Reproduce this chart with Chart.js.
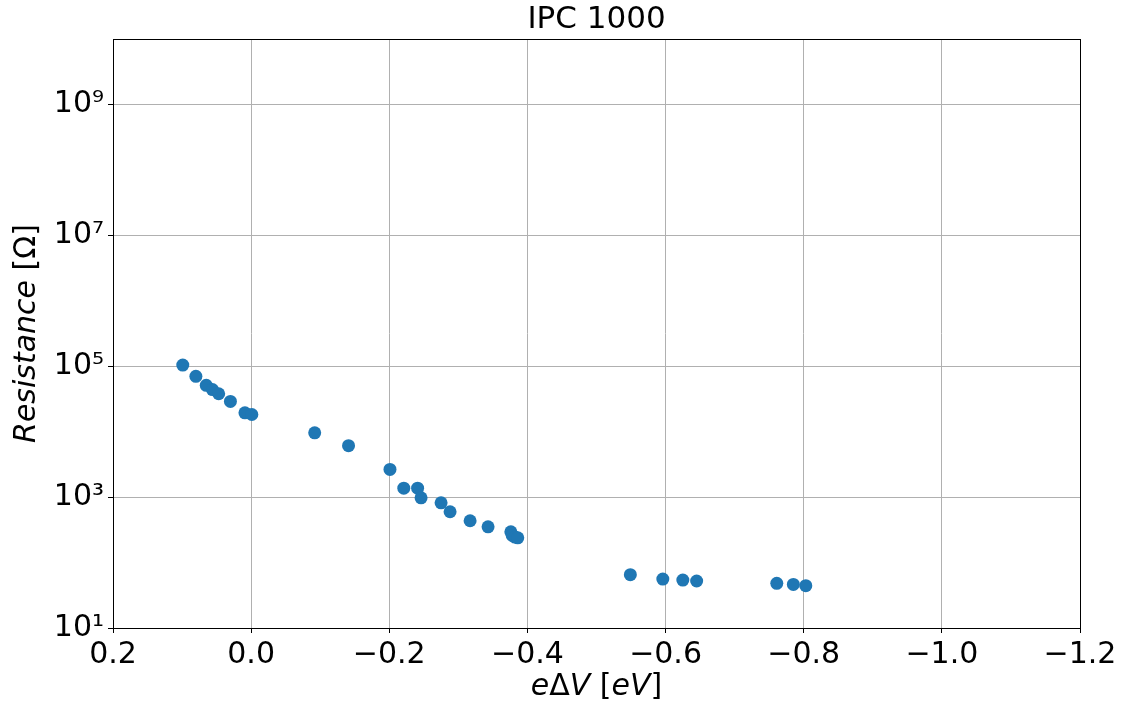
<!DOCTYPE html>
<html>
<head>
<meta charset="utf-8">
<script src="https://cdn.jsdelivr.net/npm/chart.js@4"></script>
<style>
  html, body { margin: 0; padding: 0; background: #fff; }
  #wrap { width: 1123px; height: 706px; }
</style>
</head>
<body>
<div id="wrap"><canvas id="chart"></canvas></div>
<script>
// energy shift e*dV [eV]
const deltaV = [0.099, 0.080, 0.065, 0.056, 0.047, 0.030, 0.009, -0.001,
  -0.092, -0.141, -0.201, -0.221, -0.241, -0.246, -0.275, -0.288, -0.317,
  -0.343, -0.376, -0.378, -0.382, -0.386, -0.549, -0.596, -0.625, -0.645,
  -0.761, -0.785, -0.803];
// resistance [Ohm]
const resistance = [1.04e5, 7.0e4, 5.1e4, 4.4e4, 3.8e4, 2.9e4, 1.94e4, 1.83e4,
  9.6e3, 6.1e3, 2.65e3, 1.37e3, 1.37e3, 975, 818, 597, 435,
  352, 295, 260, 245, 239, 65.2, 56, 54, 52.3,
  48.1, 46.4, 44.3];
const yTicks = [1e1, 1e3, 1e5, 1e7, 1e9];
const yTickLabels = ['10\u00b9', '10\u00b3', '10\u2075', '10\u2077', '10\u2079'];
const title = 'IPC 1000';

const FONT = 'DejaVu Sans';

// draws the top/right spines, the title and the mixed-style axis titles
const frame = {
  id: 'frame',
  afterDraw(chart) {
    const ctx = chart.ctx;
    const a = chart.chartArea;
    const cx = (a.left + a.right) / 2;
    ctx.save();
    ctx.strokeStyle = '#000';
    ctx.lineWidth = 1;
    ctx.strokeRect(Math.round(a.left) + 0.5, Math.round(a.top) + 0.5,
      Math.round(a.right - a.left), Math.round(a.bottom - a.top));

    ctx.fillStyle = '#000';
    ctx.textAlign = 'center';
    ctx.textBaseline = 'middle';
    ctx.font = '31px ' + FONT;
    ctx.fillText(title, cx, 20);

    const draw = (segs, x0, cy) => {
      let w = 0;
      segs.forEach(s => { ctx.font = (s[1] ? 'italic ' : '') + '30px ' + FONT; w += ctx.measureText(s[0]).width; });
      let x = x0 - w / 2;
      ctx.textBaseline = 'middle';
      ctx.textAlign = 'left';
      segs.forEach(s => {
        ctx.font = (s[1] ? 'italic ' : '') + '30px ' + FONT;
        ctx.fillText(s[0], x, cy);
        x += ctx.measureText(s[0]).width;
      });
    };
    // x title: eΔV [eV]
    draw([['e', true], ['\u0394', false], ['V', true], [' [', false], ['eV', true], [']', false]], cx, 687);

    ctx.translate(27, (a.top + a.bottom) / 2);
    ctx.rotate(-Math.PI / 2);
    draw([['Resistance', true], [' [\u03a9]', false]], 0, 0);
    ctx.restore();
  }
};

new Chart(document.getElementById('chart'), {
  type: 'scatter',
  data: {
    datasets: [{
      data: deltaV.map((v, i) => ({ x: v, y: resistance[i] })),
      backgroundColor: '#1f77b4',
      borderWidth: 0,
      pointRadius: 6.5,
      pointHoverRadius: 6.5
    }]
  },
  options: {
    responsive: true,
    maintainAspectRatio: false,
    animation: false,
    layout: { padding: { left: 0, right: 43, top: 39, bottom: 0 } },
    plugins: {
      legend: { display: false },
      tooltip: { enabled: false },
      title: { display: false }
    },
    scales: {
      x: {
        type: 'linear',
        reverse: true,
        min: -1.2,
        max: 0.2,
        afterFit(s) { s.height = 78; },
        ticks: {
          stepSize: 0.2,
          color: '#000',
          padding: 4,
          maxRotation: 0,
          font: { family: FONT, size: 30 },
          callback(v) {
            const r = Math.round(v * 10) / 10;
            return (r < 0 ? '\u2212' : '') + Math.abs(r).toFixed(1);
          }
        },
        grid: { color: '#b0b0b0', lineWidth: 1, tickLength: 5, tickColor: '#000' },
        border: { color: '#000', width: 1 }
      },
      y: {
        type: 'logarithmic',
        min: 10,
        max: 1e10,
        afterFit(s) { s.width = 113; },
        afterBuildTicks(s) { s.ticks = yTicks.map(v => ({ value: v })); },
        ticks: {
          color: '#000',
          padding: 4,
          font: { family: FONT, size: 30 },
          callback(v) {
            const i = yTicks.indexOf(v);
            return i >= 0 ? yTickLabels[i] : '';
          }
        },
        grid: { color: '#b0b0b0', lineWidth: 1, tickLength: 5, tickColor: '#000' },
        border: { color: '#000', width: 1 }
      }
    }
  },
  plugins: [frame]
});
</script>
</body>
</html>
